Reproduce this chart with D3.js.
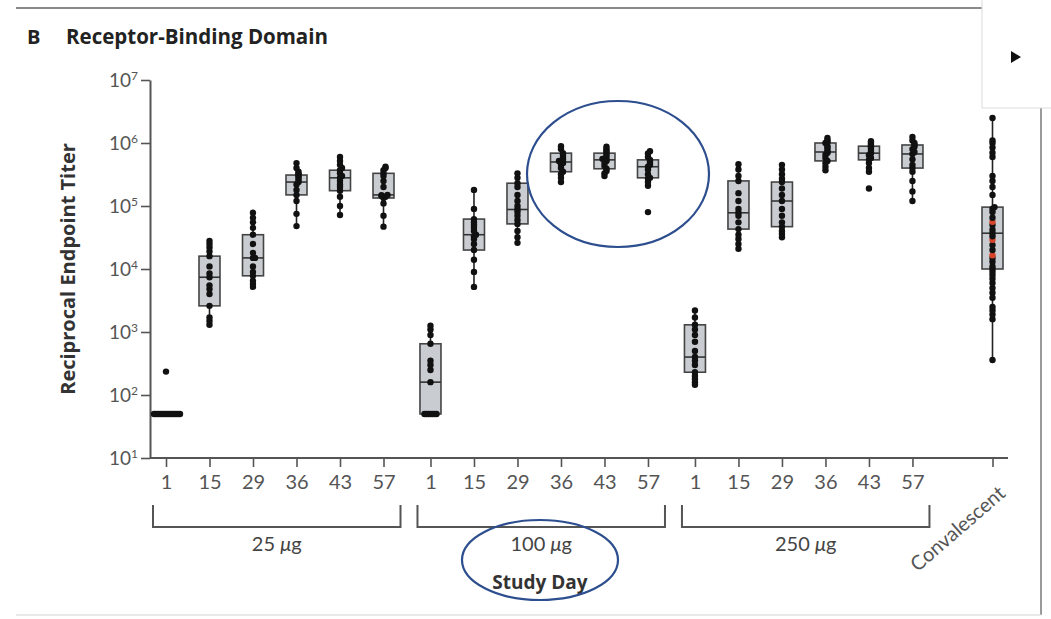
<!DOCTYPE html>
<html>
<head>
<meta charset="utf-8">
<script src="https://cdn.jsdelivr.net/npm/d3@7"></script>
<style>
  body { margin: 0; background: #fff; }
  svg { display: block; font-family: Lato, "Open Sans", sans-serif; }
  .bold { font-family: "Open Sans", sans-serif; font-weight: 700; }
</style>
</head>
<body>
<div id="chart"></div>
<script>
// data (reciprocal endpoint titer, log scale)
const doseLabels = ["25", "100", "250"];
const dayLabels = ["1", "15", "29", "36", "43", "57"];
const convLabel = "Convalescent";

// one entry per box: 25 µg days, 100 µg days, 250 µg days, convalescent
const whiskerLow  = [50, 1300, 5200, 48000, 72000, 47000,   50, 5200, 26000, 240000, 300000, 210000,   145, 21000, 32000, 370000, 350000, 120000,   360];
const q1          = [50, 2600, 7800, 150000, 175000, 134000,   50, 20000, 52000, 350000, 390000, 280000,   230, 43000, 47000, 520000, 540000, 400000,   10000];
const median      = [50, 7400, 15000, 240000, 280000, 150000,   160, 35000, 88000, 500000, 540000, 420000,   400, 78000, 120000, 720000, 690000, 670000,   37000];
const q3          = [50, 16000, 35000, 310000, 370000, 330000,   650, 62000, 230000, 690000, 690000, 540000,   1300, 250000, 240000, 1000000, 890000, 930000,   96000];
const whiskerHigh = [50, 28000, 78000, 480000, 600000, 420000,   1260, 180000, 330000, 890000, 870000, 740000,   2200, 460000, 450000, 1200000, 1070000, 1250000,   2500000];

const titers = [
  [50, 50, 50, 50, 50, 50, 50, 50, 50, 50, 50, 50, 50, 50, 235],
  [1300, 1500, 1700, 2600, 4000, 4800, 5500, 7400, 8500, 11000, 16000, 19000, 22000, 25000, 28000],
  [5200, 5800, 6500, 7800, 9000, 11000, 15000, 15000, 18000, 25000, 35000, 45000, 55000, 65000, 78000],
  [48000, 75000, 120000, 150000, 180000, 220000, 240000, 260000, 280000, 300000, 310000, 330000, 350000, 400000, 480000],
  [72000, 100000, 140000, 175000, 200000, 220000, 250000, 280000, 300000, 330000, 370000, 400000, 450000, 520000, 600000],
  [47000, 70000, 110000, 134000, 140000, 145000, 148000, 150000, 200000, 250000, 300000, 330000, 370000, 400000, 420000],
  [50, 50, 50, 50, 50, 50, 50, 160, 250, 300, 350, 650, 900, 1100, 1260],
  [5200, 9000, 14000, 20000, 25000, 30000, 33000, 35000, 40000, 45000, 50000, 55000, 62000, 90000, 180000],
  [26000, 32000, 40000, 52000, 60000, 70000, 80000, 88000, 100000, 120000, 150000, 200000, 230000, 280000, 330000],
  [240000, 280000, 320000, 350000, 400000, 450000, 480000, 500000, 520000, 550000, 600000, 650000, 690000, 800000, 890000],
  [300000, 330000, 360000, 390000, 430000, 480000, 520000, 540000, 560000, 600000, 650000, 700000, 750000, 800000, 870000],
  [80000, 210000, 240000, 270000, 280000, 320000, 380000, 420000, 450000, 480000, 520000, 540000, 600000, 680000, 740000],
  [145, 160, 180, 200, 230, 300, 350, 400, 500, 700, 900, 1100, 1300, 1700, 2200],
  [21000, 25000, 30000, 35000, 43000, 55000, 70000, 78000, 90000, 120000, 160000, 250000, 300000, 380000, 460000],
  [32000, 36000, 40000, 47000, 55000, 70000, 90000, 120000, 150000, 190000, 240000, 270000, 320000, 380000, 450000],
  [370000, 420000, 480000, 520000, 580000, 650000, 700000, 720000, 780000, 850000, 900000, 1000000, 1050000, 1100000, 1200000],
  [190000, 350000, 400000, 480000, 540000, 580000, 640000, 690000, 720000, 780000, 850000, 890000, 950000, 1000000, 1070000],
  [120000, 170000, 250000, 350000, 400000, 450000, 550000, 670000, 720000, 800000, 870000, 930000, 1000000, 1100000, 1250000],
  [360, 1600, 1900, 2200, 2500, 3500, 4200, 5000, 6000, 7000, 8000, 9000, 10000, 11000, 13000, 15000, 20000, 24000, 33000,
   37000, 42000, 50000, 65000, 80000, 90000, 96000, 150000, 200000, 250000, 300000, 600000, 700000, 850000, 1000000, 1100000, 2500000]
];
const convRed = [16500, 29000, 56000];

const width = 1051, height = 619;
const svg = d3.select("#chart").append("svg")
    .attr("width", width)
    .attr("height", height);

// slot positions: 6 days per dose group, slightly wider gap between groups
const groupStep = 6.08;
const cats = [];
doseLabels.forEach((dose, g) => {
    dayLabels.forEach((d, i) => cats.push({ label: d, pos: g * groupStep + i }));
});
cats.push({ label: convLabel, pos: 19 });

const x = d3.scaleLinear().domain([0, 19]).range([166, 992.5]);
const y = d3.scaleLog().domain([10, 1e7]).range([458, 80]);

// frame around the panel
svg.append("line")
    .attr("x1", 16).attr("x2", 982).attr("y1", 8).attr("y2", 8)
    .attr("stroke", "#8a8a8a").attr("stroke-width", 2.2);
svg.append("line")
    .attr("x1", 1041).attr("x2", 1041).attr("y1", 108).attr("y2", 615)
    .attr("stroke", "#9a9a9a").attr("stroke-width", 2);
svg.append("line")
    .attr("x1", 16).attr("x2", 1041).attr("y1", 615).attr("y2", 615)
    .attr("stroke", "#e2e2e2").attr("stroke-width", 1.5);
svg.append("rect")
    .attr("x", 982).attr("y", -1).attr("width", 70).attr("height", 109)
    .attr("fill", "#fff").attr("stroke", "#dcdcdc");
svg.append("path")
    .attr("d", "M1011,51L1021,57L1011,63Z")
    .attr("fill", "#111");

// title
svg.append("text")
    .attr("class", "bold")
    .attr("x", 27).attr("y", 44)
    .attr("font-size", 20).attr("fill", "#222")
    .text("B");
svg.append("text")
    .attr("class", "bold")
    .attr("x", 66).attr("y", 44)
    .attr("font-size", 20.5).attr("fill", "#222")
    .text("Receptor-Binding Domain");

// y axis
let yAxis = svg.append("g")
    .attr("transform", "translate(150,0)")
    .call(d3.axisLeft(y)
        .tickValues([1e1, 1e2, 1e3, 1e4, 1e5, 1e6, 1e7])
        .tickSize(9)
        .tickSizeOuter(0)
        .tickPadding(3)
        .tickFormat(""));
yAxis.select(".domain").attr("stroke", "#555").attr("stroke-width", 2);
yAxis.selectAll(".tick line").attr("stroke", "#555").attr("stroke-width", 1.6);
yAxis.selectAll(".tick text").each(function (d) {
    let t = d3.select(this)
        .attr("font-size", 19)
        .attr("fill", "#555")
        .attr("font-family", "Lato, sans-serif");
    t.append("tspan").text("10");
    t.append("tspan").attr("dy", -7).attr("font-size", 12).text(Math.round(Math.log10(d)));
});

svg.append("text")
    .attr("class", "bold")
    .attr("transform", "translate(75,269) rotate(-90)")
    .style("text-anchor", "middle")
    .attr("font-size", 20).attr("fill", "#333")
    .text("Reciprocal Endpoint Titer");

// x axis
svg.append("line")
    .attr("x1", 150).attr("x2", 1008).attr("y1", 458).attr("y2", 458)
    .attr("stroke", "#555").attr("stroke-width", 2);
let xAxis = svg.append("g")
    .attr("transform", "translate(0,458)")
    .call(d3.axisBottom(x)
        .tickValues(cats.map(c => c.pos))
        .tickFormat((d, i) => cats[i].label)
        .tickSize(9)
        .tickPadding(8));
xAxis.select(".domain").remove();
xAxis.selectAll(".tick line").attr("stroke", "#555").attr("stroke-width", 1.6);
xAxis.selectAll(".tick text")
    .attr("font-size", 20)
    .attr("fill", "#555")
    .attr("font-family", "Lato, sans-serif");
xAxis.selectAll(".tick text")
    .filter((d, i) => cats[i].label === convLabel)
    .attr("y", 0).attr("dy", "0.35em")
    .attr("transform", "translate(9,32) rotate(-41)")
    .style("text-anchor", "end");

// dose brackets
doseLabels.forEach((dose, g) => {
    let x0 = x(g * groupStep) - 13;
    let x1 = x(g * groupStep + 5) + 17;
    svg.append("path")
        .attr("d", `M${x0},505V527H${x1}V505`)
        .attr("fill", "none").attr("stroke", "#555").attr("stroke-width", 2);
    let lab = svg.append("text")
        .attr("x", (x0 + x1) / 2).attr("y", 551)
        .style("text-anchor", "middle")
        .attr("font-size", 20).attr("fill", "#444");
    lab.append("tspan").text(dose + " ");
    lab.append("tspan").attr("font-style", "italic").text("μ");
    lab.append("tspan").text("g");
});

svg.append("text")
    .attr("class", "bold")
    .attr("x", 540).attr("y", 589)
    .style("text-anchor", "middle")
    .attr("font-size", 19).attr("fill", "#333")
    .text("Study Day");

// boxes
const boxW = 21;
let boxes = svg.append("g");
cats.forEach((c, i) => {
    let cx = x(c.pos);
    boxes.append("line")
        .attr("x1", cx).attr("x2", cx)
        .attr("y1", y(whiskerLow[i])).attr("y2", y(whiskerHigh[i]))
        .attr("stroke", "#222").attr("stroke-width", 1.6);
    boxes.append("rect")
        .attr("x", cx - boxW / 2).attr("width", boxW)
        .attr("y", y(q3[i]))
        .attr("height", y(q1[i]) - y(q3[i]))
        .attr("fill", "#c9cdd2").attr("stroke", "#444").attr("stroke-width", 1.6);
    boxes.append("line")
        .attr("x1", cx - boxW / 2).attr("x2", cx + boxW / 2)
        .attr("y1", y(median[i])).attr("y2", y(median[i]))
        .attr("stroke", "#333").attr("stroke-width", 1.6);
});

// points, spread sideways when they overlap
function dodge(vals) {
    let placed = [];
    return vals.slice().sort((a, b) => a.v - b.v).map(p => {
        let py = y(p.v);
        let n = placed.filter(q => Math.abs(q - py) < 2.5).length;
        placed.push(py);
        let off = n === 0 ? 0 : (n % 2 ? 1 : -1) * Math.ceil(n / 2) * 2;
        return { v: p.v, red: p.red, py: py, off: off };
    });
}

let dots = svg.append("g");
cats.forEach((c, i) => {
    let vals = titers[i].map(v => ({ v: v, red: false }));
    if (c.label === convLabel) vals = vals.concat(convRed.map(v => ({ v: v, red: true })));
    let pts = dodge(vals);
    dots.selectAll(null)
        .data(pts)
        .enter()
        .append("circle")
        .attr("cx", d => x(c.pos) + d.off)
        .attr("cy", d => d.py)
        .attr("r", 3.2)
        .attr("fill", d => d.red ? "#d8432b" : "#111");
});

// hand-drawn highlight ellipses
svg.append("ellipse")
    .attr("cx", 618).attr("cy", 174).attr("rx", 91).attr("ry", 73)
    .attr("fill", "none").attr("stroke", "#2c4e8e").attr("stroke-width", 2.2);
svg.append("ellipse")
    .attr("cx", 540).attr("cy", 560).attr("rx", 78).attr("ry", 40)
    .attr("fill", "none").attr("stroke", "#2c4e8e").attr("stroke-width", 2.2);
</script>
</body>
</html>
